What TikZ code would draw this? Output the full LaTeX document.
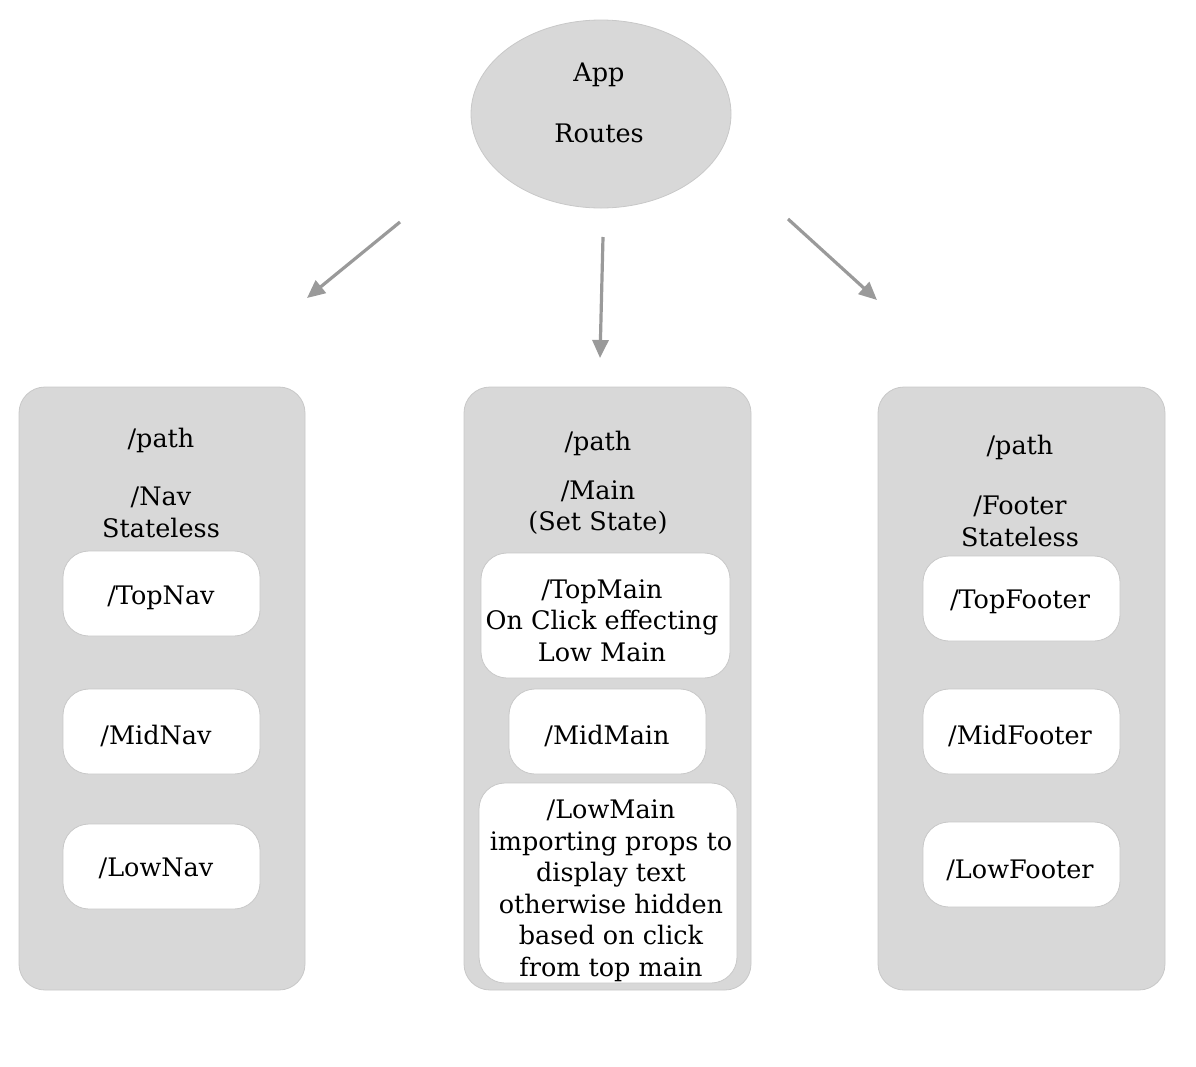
\documentclass[tikz,border=0pt]{standalone}
\usepackage{fontspec}
\setmainfont{DejaVu Serif}
\usetikzlibrary{arrows.meta,shapes.geometric}
\definecolor{panelgray}{HTML}{D8D8D8}
\definecolor{edgegray}{HTML}{C8C8C8}
\definecolor{arrowgray}{HTML}{9A9A9A}
\begin{document}
\begin{tikzpicture}[x=1pt,y=-1pt,
  txt/.style={font=\fontsize{25.5}{31.5}\selectfont, align=center, inner sep=0pt, yshift=-3pt},
  panel/.style={draw=edgegray, line width=0.8pt, fill=panelgray, rounded corners=26pt},
  inbox/.style={draw=edgegray, line width=0.8pt, fill=white, rounded corners=26pt},
  conn/.style={draw=arrowgray, line width=3.2pt, -{Triangle[length=18pt,width=16pt]}}]
\useasboundingbox (0,0) rectangle (1196,1066);
% app ellipse
\node[ellipse, draw=edgegray, line width=0.8pt, fill=panelgray, minimum width=260pt, minimum height=188pt, inner sep=0pt] (app) at (601,114) {};
\node[txt] (apptxt) at (599,72) {App};
\node[txt] (routestxt) at (599,130) {Routes};
% arrows
\coordinate (a1s) at (400,222); \coordinate (a1e) at (307,298);
\coordinate (a2s) at (603,237); \coordinate (a2e) at (600,358);
\coordinate (a3s) at (788,219); \coordinate (a3e) at (877,300);
\draw[conn] (a1s) -- (a1e);
\draw[conn] (a2s) -- (a2e);
\draw[conn] (a3s) -- (a3e);
% panels
\path[panel] (19,387) rectangle (305,990);
\path[panel] (464,387) rectangle (751,990);
\path[panel] (878,387) rectangle (1165,990);
% left panel
\node[txt] (lpath) at (161,437) {/path};
\node[txt] (lnav) at (161,509.5) {/Nav\\Stateless};
\path[inbox] (63,551) rectangle (260,636);
\node[txt] (topnav) at (161,595) {/TopNav};
\path[inbox] (63,689) rectangle (260,774);
\node[txt] (midnav) at (156,733) {/MidNav};
\path[inbox] (63,824) rectangle (260,909);
\node[txt] (lownav) at (156,865) {/LowNav};
% middle panel
\node[txt] (mpath) at (598,440) {/path};
\node[txt] (mmain) at (598,504.5) {/Main\\(Set State)};
\path[inbox] (481,553) rectangle (730,678);
\node[txt] (topmain) at (602,617.5) {/TopMain\\On Click effecting\\Low Main};
\path[inbox] (509,689) rectangle (706,774);
\node[txt] (midmain) at (607,733) {/MidMain};
\path[inbox] (479,783) rectangle (737,983);
\node[txt] (lowmain) at (611,888) {/LowMain\\importing props to\\display text\\otherwise hidden\\based on click\\from top main};
% right panel
\node[txt] (rpath) at (1020,444) {/path};
\node[txt] (rfooter) at (1020,518.5) {/Footer\\Stateless};
\path[inbox] (923,556) rectangle (1120,641);
\node[txt] (topfooter) at (1020,599) {/TopFooter};
\path[inbox] (923,689) rectangle (1120,774);
\node[txt] (midfooter) at (1020,733) {/MidFooter};
\path[inbox] (923,822) rectangle (1120,907);
\node[txt] (lowfooter) at (1020,867) {/LowFooter};
\end{tikzpicture}
\end{document}
